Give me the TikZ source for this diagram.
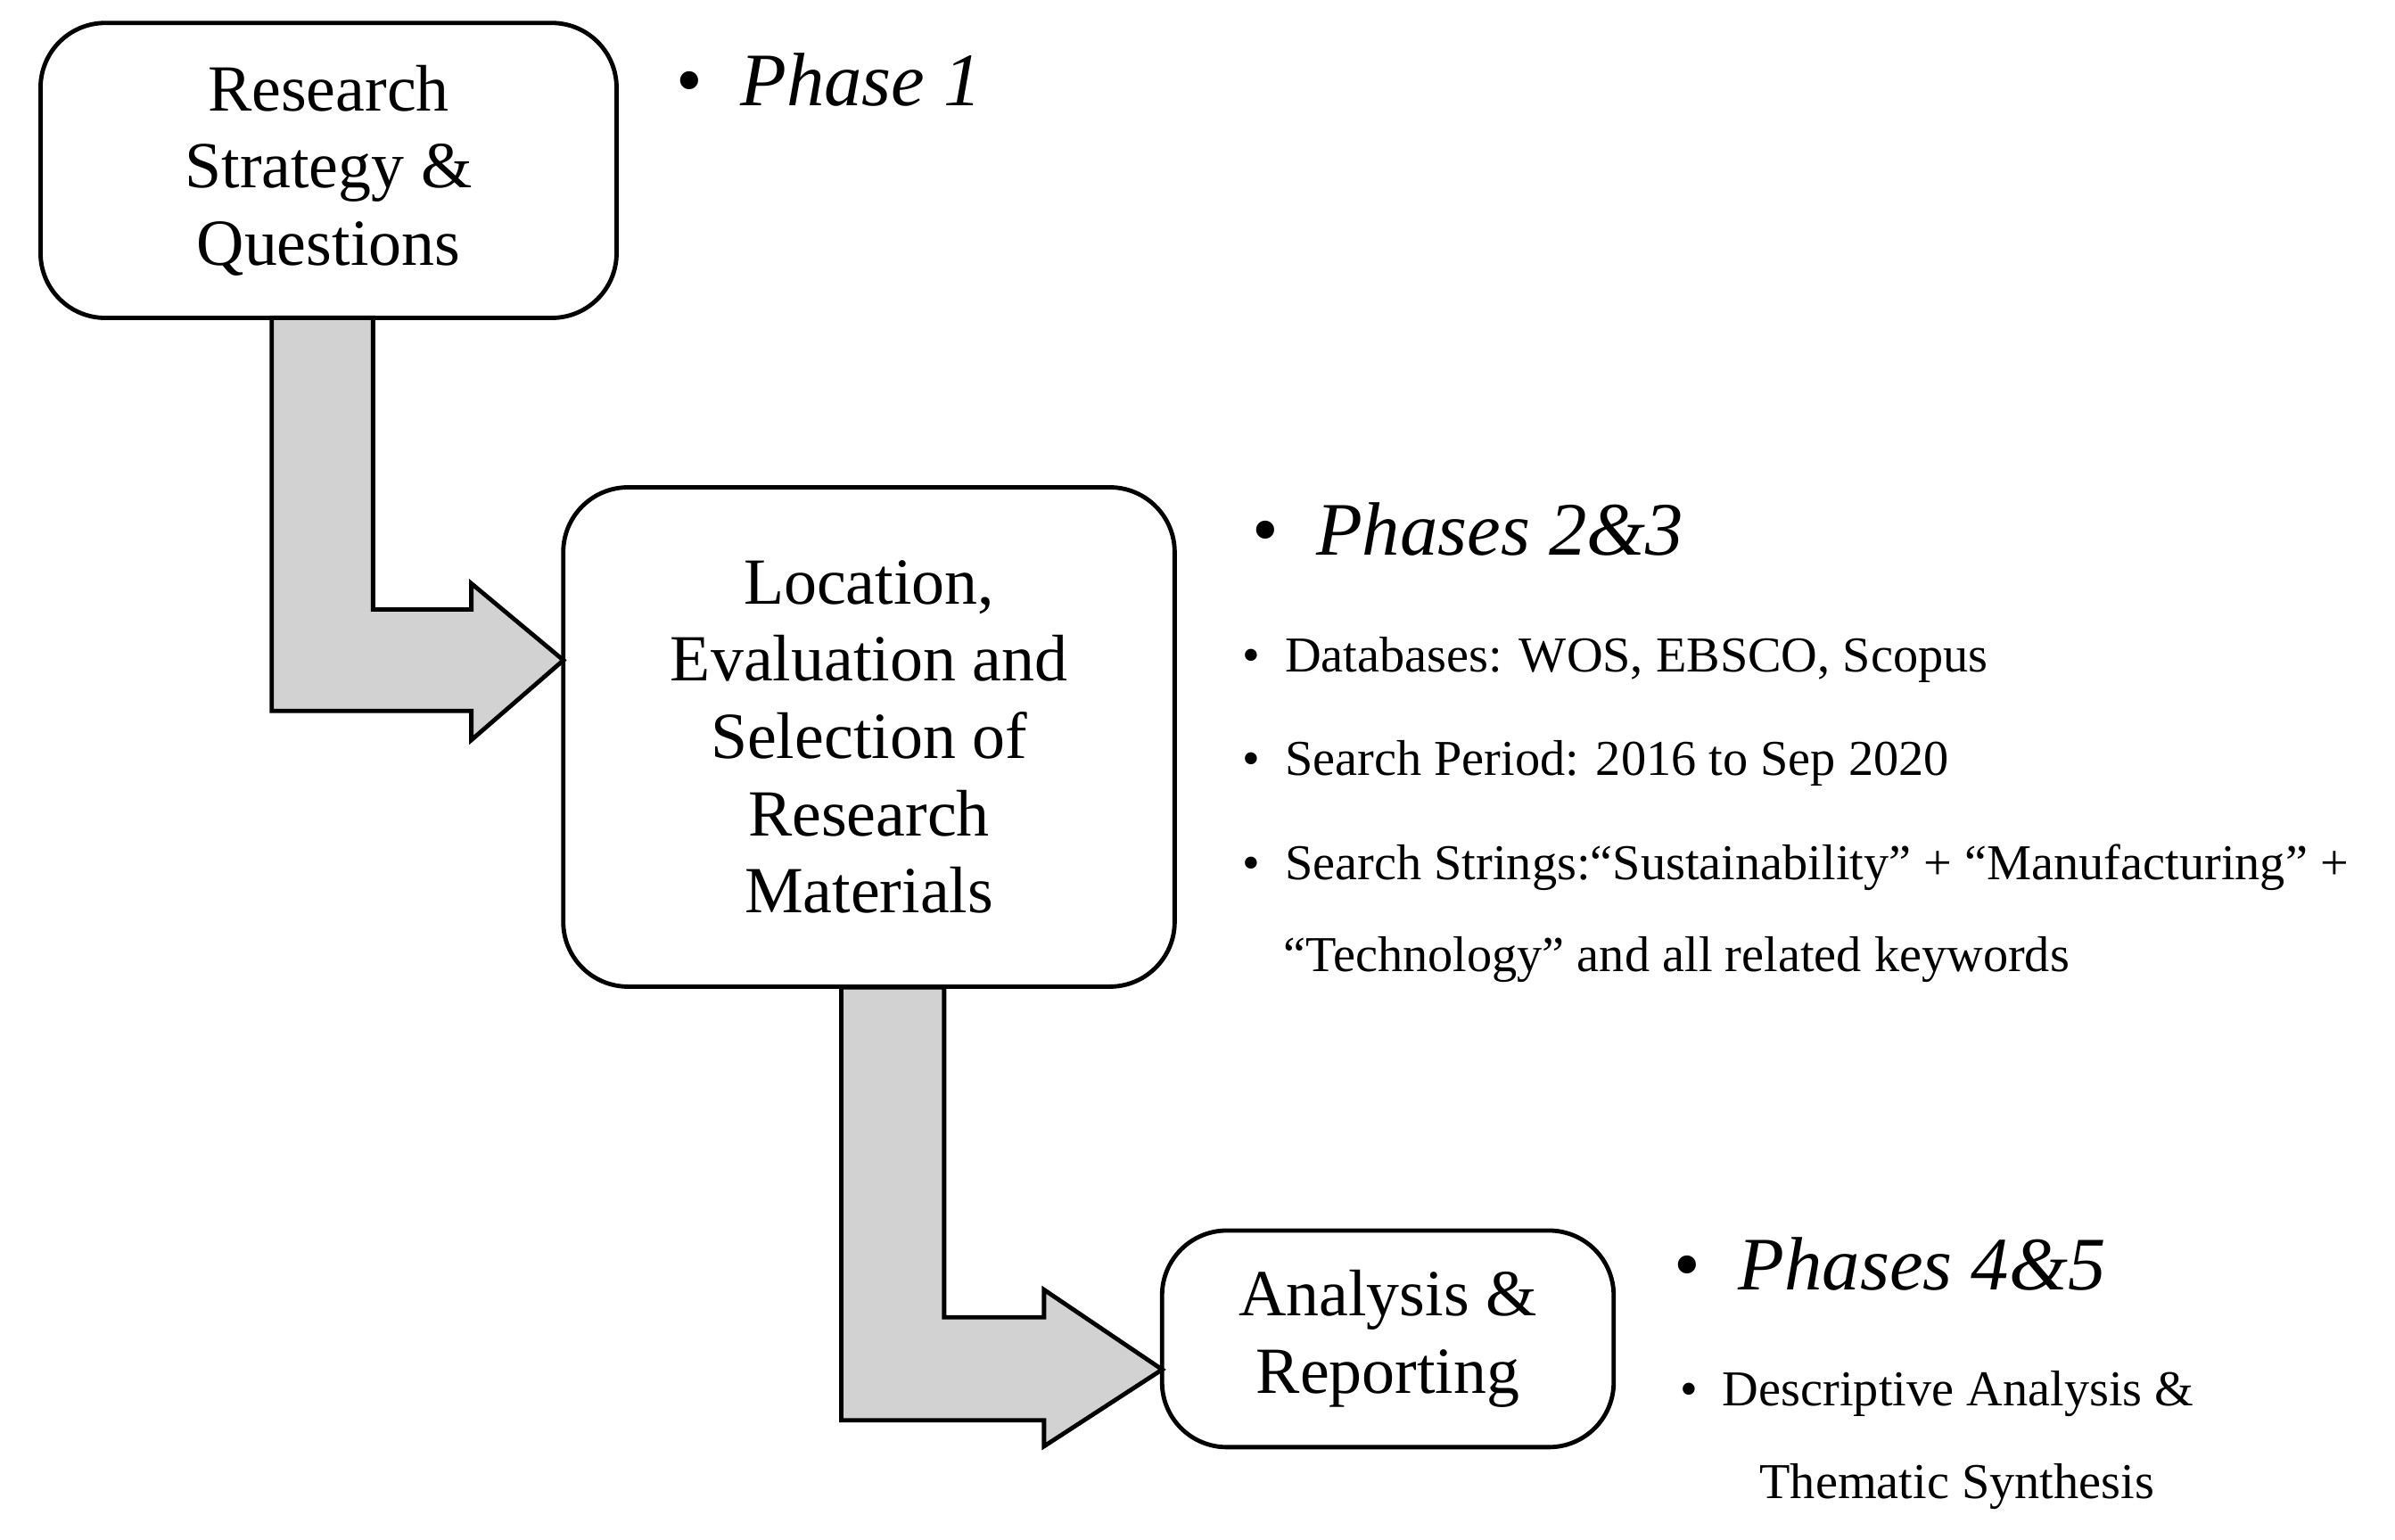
\documentclass[tikz,border=0pt]{standalone}
\usepackage{fontspec}
\setmainfont{Liberation Serif}
\usetikzlibrary{calc}
\begin{document}
\begin{tikzpicture}[x=0.01cm,y=-0.01cm]
    \tikzstyle{stepbox} = [draw, thick, rounded corners=12pt, align=center, font=\fontsize{12.2}{14.3}\selectfont, inner sep=0];
    \tikzstyle{phase} = [anchor=west, font=\fontsize{14}{16}\selectfont\itshape];
    \tikzstyle{item} = [anchor=west, inner sep=1pt, font=\fontsize{9.3}{12}\selectfont];
    \tikzstyle{blockarrow} = [draw, thick, fill=gray!35, line join=miter];

    \useasboundingbox (0,0) rectangle (1560,1003);

    % block arrows, drawn first so the boxes sit on top
    \coordinate (a1) at (177,207);
    \coordinate (a2) at (548,643);
    \draw[blockarrow] (a1) -- ++(66,0) -- ++(0,190) -- ++(64,0) -- ++(0,-17) -- (367,430) -- (307,482) -- ++(0,-19) -- (177,463) -- cycle;
    \draw[blockarrow] (a2) -- ++(67,0) -- ++(0,215) -- ++(65,0) -- ++(0,-18) -- (757,892) -- (680,942) -- ++(0,-17) -- (548,925) -- cycle;

    \node[stepbox, minimum width=3.75cm, minimum height=1.92cm] (strategy) at (214,111) {Research\\Strategy \&\\Questions};
    \node[stepbox, minimum width=3.98cm, minimum height=3.25cm] (location) at (566,480) {Location,\\Evaluation and\\Selection of\\Research\\Materials};
    \node[stepbox, minimum width=2.94cm, minimum height=1.41cm] (analysis) at (904,872) {Analysis \&\\Reporting};

    \node[phase] (p1) at (428,52) {\upshape\textbullet\ \ \itshape Phase 1};
    \node[phase] (p23) at (803,345) {\upshape\textbullet\ \ \itshape Phases 2\&3};
    \node[item] (db) at (805,430) {\textbullet\ \ Databases: WOS, EBSCO, Scopus};
    \node[item] (period) at (805,497) {\textbullet\ \ Search Period: 2016 to Sep 2020};
    \node[item] (strings) at (805,565) {\textbullet\ \ Search Strings:“Sustainability” + “Manufacturing” +};
    \node[item] (strings2) at (832,625) {“Technology” and all related keywords};
    \node[phase] (p45) at (1078,823) {\upshape\textbullet\ \ \itshape Phases 4\&5};
    \node[item] (desc) at (1090,908) {\textbullet\ \ Descriptive Analysis \&};
    \node[item] (desc2) at (1142,968) {Thematic Synthesis};
\end{tikzpicture}
\end{document}
